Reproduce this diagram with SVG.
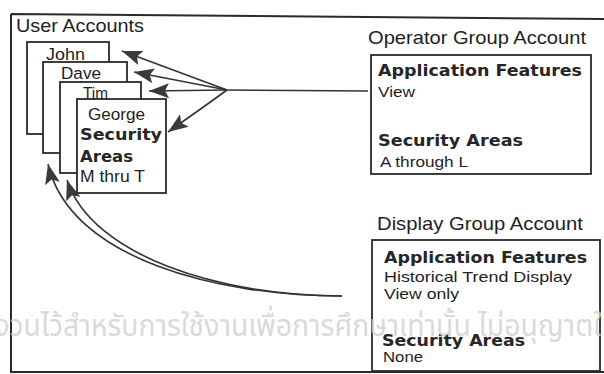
<svg xmlns="http://www.w3.org/2000/svg" width="604" height="374" viewBox="0 0 604 374">
<style>
.frame{fill:none;stroke:#2a2a2a;stroke-width:2}
.box{fill:#fff;stroke:#2a2a2a;stroke-width:1.8}
.t{font-family:"Liberation Sans",Arial,sans-serif;fill:#1e1e1e}
.b{font-family:"DejaVu Sans","Liberation Sans",sans-serif;font-weight:bold;fill:#262626}
.c{fill:none;stroke:#333;stroke-width:1.6}
.wm{font-family:"Noto Sans Thai","Noto Sans","DejaVu Sans",sans-serif;fill:#cfcfcf;fill-opacity:0.8}
</style>
<defs>
<marker id="ah" markerUnits="userSpaceOnUse" markerWidth="22" markerHeight="16" refX="20" refY="7.5" orient="auto">
<path d="M0,0 L20,7.5 L0,15 L4,7.5 z" fill="#3a3a3a"/>
</marker>
</defs>
<rect width="604" height="374" fill="#fff"/>
<g id="frame">
<path class="frame" d="M11,14 L606,19 M11,14 L11,372 L606,372"/>
<text class="t" x="16" y="32" font-size="19" textLength="128" lengthAdjust="spacingAndGlyphs">User Accounts</text>
</g>
<g id="john">
<rect class="box" x="27" y="42" width="82" height="92"/>
<text class="t" x="46" y="60" font-size="16" textLength="39" lengthAdjust="spacingAndGlyphs">John</text>
</g>
<g id="dave">
<rect class="box" x="43" y="62" width="84" height="91"/>
<text class="t" x="61" y="79" font-size="16" textLength="40" lengthAdjust="spacingAndGlyphs">Dave</text>
</g>
<g id="tim">
<rect class="box" x="60" y="82" width="81" height="91"/>
<text class="t" x="83" y="99" font-size="16" textLength="25" lengthAdjust="spacingAndGlyphs">Tim</text>
</g>
<g id="george">
<rect class="box" x="77" y="99" width="89" height="94"/>
<text class="t" x="88" y="120" font-size="16" textLength="57" lengthAdjust="spacingAndGlyphs">George</text>
<text class="b" x="80" y="140" font-size="16" textLength="82" lengthAdjust="spacingAndGlyphs">Security</text>
<text class="b" x="80" y="162" font-size="16" textLength="53" lengthAdjust="spacingAndGlyphs">Areas</text>
<text class="t" x="80" y="182" font-size="16" textLength="65" lengthAdjust="spacingAndGlyphs">M thru T</text>
</g>
<g id="operator">
<text class="t" x="368" y="44" font-size="19" textLength="218" lengthAdjust="spacingAndGlyphs">Operator Group Account</text>
<rect class="box" x="371" y="55" width="220" height="119"/>
<text class="b" x="378" y="76" font-size="16" textLength="204" lengthAdjust="spacingAndGlyphs">Application Features</text>
<text class="t" x="378" y="97" font-size="15" textLength="37" lengthAdjust="spacingAndGlyphs">View</text>
<text class="b" x="378" y="146" font-size="16" textLength="145" lengthAdjust="spacingAndGlyphs">Security Areas</text>
<text class="t" x="380" y="167" font-size="15" textLength="88" lengthAdjust="spacingAndGlyphs">A through L</text>
</g>
<g id="display">
<text class="t" x="377" y="230" font-size="19" textLength="206" lengthAdjust="spacingAndGlyphs">Display Group Account</text>
<rect class="box" x="372" y="240" width="228" height="131"/>
<text class="b" x="384" y="263" font-size="16" textLength="203" lengthAdjust="spacingAndGlyphs">Application Features</text>
<text class="t" x="384" y="282" font-size="15" textLength="188" lengthAdjust="spacingAndGlyphs">Historical Trend Display</text>
<text class="t" x="384" y="299" font-size="15" textLength="75" lengthAdjust="spacingAndGlyphs">View only</text>
<text class="b" x="382" y="346" font-size="16" textLength="143" lengthAdjust="spacingAndGlyphs">Security Areas</text>
<text class="t" x="383" y="362" font-size="15" textLength="40" lengthAdjust="spacingAndGlyphs">None</text>
</g>
<g id="connectors">
<path class="c" d="M227,90 L368,91"/>
<path class="c" d="M227,90 L122,51" marker-end="url(#ah)"/>
<path class="c" d="M227,90 L134,72" marker-end="url(#ah)"/>
<path class="c" d="M227,90 L149,91" marker-end="url(#ah)"/>
<path class="c" d="M227,90 Q205,106 168,132" marker-end="url(#ah)"/>
<path class="c" d="M342,296 C220,296 70,260 48,164" marker-end="url(#ah)"/>
<path class="c" d="M342,296 C220,296 92,256 67,180" marker-end="url(#ah)"/>
</g>
<text class="wm" x="-22" y="336" font-size="30" textLength="640" lengthAdjust="spacingAndGlyphs">สงวนไว้สำหรับการใช้งานเพื่อการศึกษาเท่านั้น ไม่อนุญาตให้</text>
</svg>
